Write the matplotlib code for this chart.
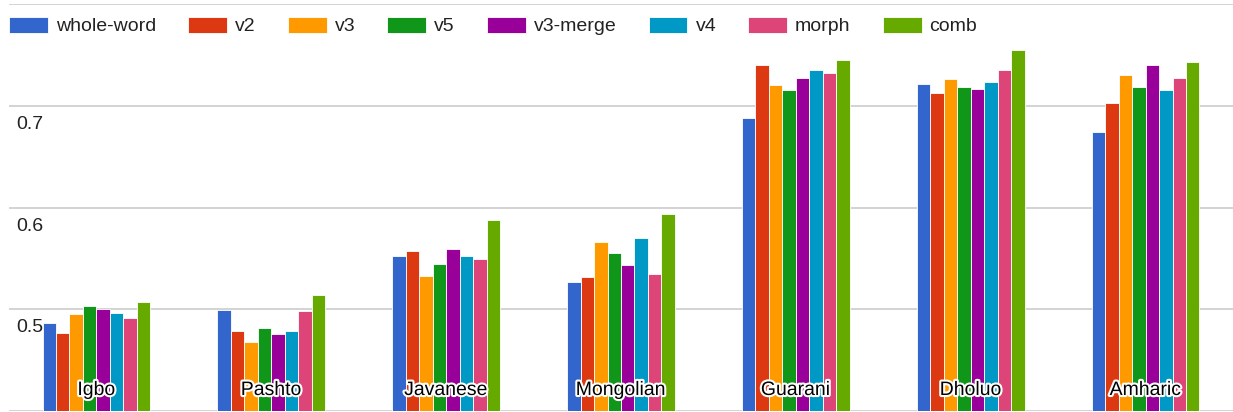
import numpy as np
import matplotlib.pyplot as plt
import matplotlib.patheffects as pe

languages = ["Igbo", "Pashto", "Javanese", "Mongolian", "Guarani", "Dholuo", "Amharic"]
series = ["whole-word", "v2", "v3", "v5", "v3-merge", "v4", "morph", "comb"]
colors = ["#3366cc", "#dc3912", "#ff9900", "#109618", "#990099", "#0099c6", "#dd4477", "#66aa00"]

whole_word = [0.486, 0.499, 0.552, 0.527, 0.688, 0.721, 0.674]
v2 = [0.477, 0.479, 0.557, 0.532, 0.740, 0.713, 0.703]
v3 = [0.495, 0.468, 0.533, 0.566, 0.720, 0.726, 0.730]
v5 = [0.503, 0.482, 0.544, 0.555, 0.715, 0.718, 0.718]
v3_merge = [0.500, 0.476, 0.559, 0.543, 0.727, 0.716, 0.740]
v4 = [0.496, 0.479, 0.552, 0.570, 0.735, 0.723, 0.715]
morph = [0.491, 0.498, 0.549, 0.535, 0.732, 0.735, 0.727]
comb = [0.507, 0.514, 0.588, 0.594, 0.745, 0.755, 0.743]
values = [whole_word, v2, v3, v5, v3_merge, v4, morph, comb]

yticks = [0.5, 0.6, 0.7]

plt.rcParams['font.family'] = ['Liberation Sans', 'DejaVu Sans']

fig = plt.figure(figsize=(12.33, 4.12), dpi=100)
ax = fig.add_axes([9 / 1233, 1 / 412, 1224 / 1233, 407 / 412])

x = np.arange(len(languages))
bw = 0.0771
for i, (name, vals) in enumerate(zip(series, values)):
    off = (i - 3.5) * bw
    ax.bar(x + off, np.array(vals) - 0.4, bw, bottom=0.4, color=colors[i],
           edgecolor="white", linewidth=0.6, label=name, zorder=2)

ax.set_xlim(-0.5, len(languages) - 0.5)
ax.set_ylim(0.4, 0.8)
for g in [0.4, 0.5, 0.6, 0.7, 0.8]:
    ax.axhline(g, color="#cccccc", linewidth=1.2, zorder=1)
for t in yticks:
    ax.text(0.006, t - 0.010, f"{t:.1f}", transform=ax.get_yaxis_transform(),
            ha="left", va="top", fontsize=14, color="#222222", zorder=3)

for xi, lang in zip(x, languages):
    ax.text(xi, 16 / 407, lang, transform=ax.get_xaxis_transform(), ha="center",
            va="baseline", fontsize=14, color="black", zorder=4,
            path_effects=[pe.withStroke(linewidth=3, foreground="white")])

ax.axis("off")

leg = ax.legend(loc="center left", bbox_to_anchor=(9 / 1233, 1 - 26 / 412),
                bbox_transform=fig.transFigure, ncol=8, frameon=False,
                fontsize=14, handlelength=2.0, handleheight=0.93,
                handletextpad=0.41, columnspacing=1.65, borderpad=0, borderaxespad=0)
for t in leg.get_texts():
    t.set_color("#222222")

fig.savefig("out.png", dpi=100)
